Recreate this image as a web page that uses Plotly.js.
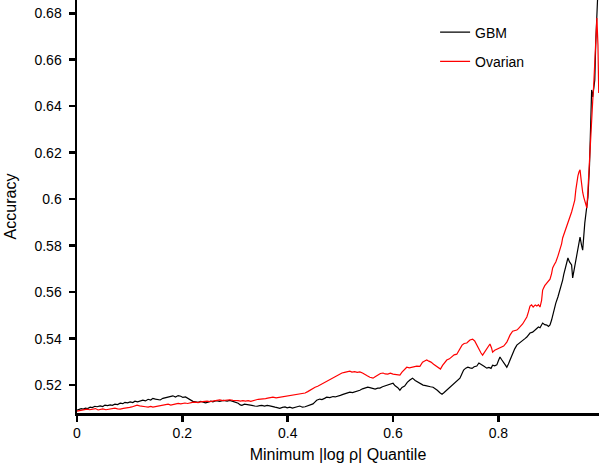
<!DOCTYPE html>
<html>
<head>
<meta charset="utf-8">
<script src="https://cdn.plot.ly/plotly-3.0.1.min.js"></script>
<style>html,body{margin:0;padding:0;background:#fff;}#chart{width:600px;height:465px;}</style>
</head>
<body>
<div id="chart"></div>
<script>
// GBM series (Minimum |log rho| quantile -> accuracy)
var gbmX = [0.000,0.004,0.008,0.012,0.016,0.020,0.025,0.029,0.034,0.038,0.044,0.049,0.053,0.058,0.063,0.067,0.072,0.077,0.082,0.087,0.091,0.096,0.101,0.106,0.110,0.115,0.120,0.125,0.130,0.135,0.140,0.144,0.149,0.154,0.158,0.163,0.168,0.173,0.177,0.182,0.187,0.192,0.197,0.201,0.206,0.211,0.216,0.220,0.225,0.230,0.235,0.239,0.244,0.249,0.254,0.258,0.264,0.271,0.278,0.285,0.290,0.296,0.301,0.306,0.310,0.313,0.318,0.323,0.328,0.332,0.337,0.342,0.347,0.351,0.356,0.361,0.366,0.372,0.376,0.380,0.385,0.390,0.395,0.399,0.404,0.409,0.414,0.418,0.423,0.428,0.433,0.438,0.442,0.448,0.452,0.455,0.461,0.465,0.470,0.474,0.480,0.486,0.490,0.495,0.500,0.505,0.510,0.514,0.518,0.523,0.528,0.532,0.537,0.542,0.547,0.552,0.556,0.561,0.566,0.571,0.575,0.580,0.585,0.590,0.595,0.600,0.604,0.609,0.613,0.617,0.622,0.627,0.632,0.637,0.642,0.647,0.652,0.657,0.662,0.666,0.671,0.676,0.680,0.684,0.689,0.693,0.697,0.700,0.704,0.708,0.712,0.717,0.722,0.727,0.731,0.734,0.738,0.742,0.746,0.750,0.754,0.759,0.763,0.768,0.772,0.778,0.782,0.786,0.789,0.793,0.797,0.800,0.803,0.806,0.810,0.816,0.819,0.822,0.827,0.831,0.835,0.838,0.841,0.844,0.848,0.851,0.854,0.857,0.860,0.865,0.869,0.873,0.876,0.879,0.884,0.888,0.892,0.895,0.898,0.901,0.903,0.906,0.909,0.913,0.917,0.920,0.922,0.924,0.926,0.929,0.932,0.935,0.939,0.941,0.943,0.945,0.949,0.953,0.955,0.958,0.960,0.964,0.968,0.970,0.973,0.975,0.977,0.979,0.981,0.983,0.985,0.987,0.989];
var gbmY = [0.5092,0.5095,0.5099,0.5097,0.5101,0.5099,0.5105,0.5103,0.5109,0.5107,0.5111,0.5108,0.5114,0.5112,0.5115,0.5113,0.5118,0.5116,0.5122,0.5120,0.5126,0.5124,0.5128,0.5125,0.5131,0.5128,0.5132,0.5135,0.5132,0.5139,0.5136,0.5143,0.5140,0.5139,0.5136,0.5143,0.5146,0.5148,0.5152,0.5154,0.5149,0.5155,0.5152,0.5147,0.5149,0.5143,0.5136,0.5130,0.5128,0.5126,0.5130,0.5127,0.5124,0.5127,0.5131,0.5128,0.5133,0.5130,0.5134,0.5131,0.5134,0.5130,0.5126,0.5122,0.5115,0.5113,0.5118,0.5117,0.5114,0.5113,0.5110,0.5109,0.5112,0.5113,0.5110,0.5113,0.5111,0.5109,0.5105,0.5103,0.5100,0.5104,0.5106,0.5102,0.5105,0.5101,0.5103,0.5107,0.5110,0.5105,0.5107,0.5112,0.5114,0.5119,0.5128,0.5135,0.5140,0.5138,0.5143,0.5148,0.5146,0.5151,0.5149,0.5154,0.5156,0.5160,0.5163,0.5168,0.5170,0.5168,0.5171,0.5175,0.5178,0.5184,0.5187,0.5191,0.5189,0.5185,0.5183,0.5187,0.5187,0.5193,0.5196,0.5200,0.5205,0.5208,0.5197,0.5189,0.5178,0.5190,0.5196,0.5212,0.5222,0.5230,0.5220,0.5213,0.5207,0.5200,0.5198,0.5195,0.5193,0.5191,0.5186,0.5178,0.5167,0.5161,0.5168,0.5174,0.5183,0.5190,0.5198,0.5209,0.5220,0.5230,0.5250,0.5265,0.5273,0.5277,0.5274,0.5272,0.5279,0.5282,0.5295,0.5289,0.5282,0.5273,0.5276,0.5272,0.5286,0.5283,0.5287,0.5305,0.5321,0.5310,0.5296,0.5277,0.5291,0.5308,0.5338,0.5356,0.5372,0.5377,0.5381,0.5388,0.5394,0.5401,0.5407,0.5416,0.5424,0.5428,0.5437,0.5445,0.5450,0.5447,0.5467,0.5460,0.5458,0.5452,0.5459,0.5480,0.5501,0.5530,0.5553,0.5579,0.5609,0.5632,0.5652,0.5675,0.5695,0.5722,0.5747,0.5730,0.5717,0.5661,0.5685,0.5704,0.5751,0.5800,0.5837,0.5800,0.5781,0.5897,0.5975,0.6009,0.6147,0.6341,0.6470,0.6440,0.6479,0.6513,0.6685,0.6814,0.6900];

// Ovarian series
var ovX = [0.000,0.005,0.010,0.014,0.019,0.024,0.030,0.035,0.040,0.045,0.049,0.055,0.063,0.068,0.072,0.077,0.082,0.088,0.095,0.100,0.104,0.110,0.114,0.119,0.125,0.130,0.135,0.140,0.144,0.149,0.154,0.159,0.163,0.168,0.173,0.178,0.182,0.187,0.192,0.197,0.205,0.210,0.214,0.219,0.224,0.230,0.234,0.240,0.247,0.252,0.258,0.265,0.271,0.277,0.285,0.290,0.296,0.301,0.306,0.310,0.315,0.320,0.325,0.330,0.334,0.339,0.344,0.349,0.353,0.358,0.362,0.367,0.372,0.378,0.385,0.392,0.399,0.405,0.410,0.416,0.423,0.428,0.433,0.438,0.442,0.447,0.452,0.457,0.461,0.466,0.471,0.476,0.480,0.486,0.490,0.494,0.498,0.503,0.508,0.513,0.518,0.522,0.527,0.532,0.537,0.542,0.547,0.551,0.556,0.562,0.566,0.571,0.576,0.581,0.585,0.590,0.595,0.600,0.606,0.613,0.617,0.621,0.626,0.631,0.636,0.641,0.645,0.651,0.656,0.660,0.664,0.668,0.672,0.677,0.682,0.686,0.690,0.694,0.698,0.702,0.707,0.712,0.716,0.721,0.726,0.731,0.735,0.740,0.746,0.751,0.755,0.757,0.761,0.764,0.767,0.770,0.773,0.776,0.780,0.784,0.787,0.789,0.793,0.797,0.802,0.806,0.810,0.813,0.816,0.819,0.822,0.827,0.831,0.835,0.838,0.841,0.846,0.850,0.854,0.857,0.860,0.863,0.866,0.870,0.873,0.876,0.879,0.882,0.884,0.888,0.892,0.895,0.898,0.901,0.903,0.906,0.909,0.913,0.917,0.920,0.922,0.926,0.928,0.932,0.936,0.939,0.942,0.945,0.947,0.949,0.951,0.953,0.955,0.957,0.958,0.960,0.962,0.964,0.966,0.968,0.970,0.973,0.975,0.977,0.979,0.981,0.983,0.985,0.987,0.989,0.9905];
var ovY = [0.5088,0.5091,0.5092,0.5095,0.5097,0.5094,0.5097,0.5099,0.5093,0.5096,0.5098,0.5094,0.5097,0.5099,0.5101,0.5098,0.5097,0.5100,0.5101,0.5104,0.5106,0.5112,0.5114,0.5111,0.5110,0.5107,0.5105,0.5108,0.5105,0.5107,0.5110,0.5112,0.5114,0.5117,0.5118,0.5114,0.5116,0.5119,0.5121,0.5119,0.5123,0.5121,0.5124,0.5126,0.5127,0.5125,0.5128,0.5130,0.5131,0.5129,0.5132,0.5133,0.5136,0.5133,0.5135,0.5137,0.5134,0.5135,0.5133,0.5131,0.5133,0.5131,0.5133,0.5130,0.5134,0.5136,0.5139,0.5140,0.5138,0.5142,0.5144,0.5146,0.5148,0.5145,0.5148,0.5151,0.5153,0.5154,0.5157,0.5159,0.5161,0.5164,0.5166,0.5172,0.5178,0.5184,0.5191,0.5195,0.5200,0.5207,0.5213,0.5220,0.5226,0.5230,0.5237,0.5243,0.5247,0.5252,0.5255,0.5258,0.5260,0.5256,0.5258,0.5255,0.5257,0.5252,0.5247,0.5240,0.5234,0.5230,0.5236,0.5243,0.5250,0.5252,0.5248,0.5247,0.5251,0.5247,0.5245,0.5243,0.5256,0.5265,0.5277,0.5274,0.5277,0.5279,0.5282,0.5281,0.5299,0.5304,0.5308,0.5303,0.5299,0.5290,0.5282,0.5275,0.5269,0.5285,0.5299,0.5308,0.5313,0.5325,0.5330,0.5333,0.5352,0.5372,0.5379,0.5381,0.5394,0.5398,0.5390,0.5381,0.5364,0.5348,0.5338,0.5329,0.5340,0.5351,0.5365,0.5377,0.5360,0.5342,0.5350,0.5355,0.5359,0.5363,0.5368,0.5376,0.5385,0.5400,0.5415,0.5432,0.5434,0.5437,0.5443,0.5450,0.5463,0.5478,0.5493,0.5515,0.5540,0.5545,0.5536,0.5545,0.5540,0.5546,0.5536,0.5565,0.5609,0.5628,0.5639,0.5650,0.5656,0.5680,0.5704,0.5718,0.5730,0.5755,0.5781,0.5808,0.5833,0.5858,0.5876,0.5902,0.5925,0.5945,0.5970,0.5996,0.6040,0.6083,0.6100,0.6117,0.6126,0.6085,0.6052,0.6030,0.6009,0.5990,0.5975,0.5962,0.6039,0.6182,0.6260,0.6341,0.6420,0.6492,0.6599,0.6700,0.6780,0.6664,0.6457];

var xTickVals = [0, 0.2, 0.4, 0.6, 0.8];
var xTickText = ["0", "0.2", "0.4", "0.6", "0.8"];
var yTickVals = [0.52, 0.54, 0.56, 0.58, 0.6, 0.62, 0.64, 0.66, 0.68];
var yTickText = ["0.52", "0.54", "0.56", "0.58", "0.6", "0.62", "0.64", "0.66", "0.68"];

var FONT = "Liberation Sans, Arial, Helvetica, sans-serif";

var traces = [
  {x: gbmX, y: gbmY, type: "scatter", mode: "lines", name: "GBM",
   line: {color: "#000000", width: 1.2}, legendgroup: "a"},
  {x: ovX, y: ovY, type: "scatter", mode: "lines", name: "Ovarian",
   line: {color: "#ff0000", width: 1.2}, legendgroup: "b"}
];

var layout = {
  width: 600, height: 465,
  margin: {l: 77, r: 1, t: 0, b: 52, pad: 0},
  paper_bgcolor: "#ffffff", plot_bgcolor: "#ffffff",
  font: {family: FONT, size: 14, color: "#000"},
  showlegend: true,
  legend: {x: 0.686, y: 0.96, xanchor: "left", yanchor: "top",
           bgcolor: "rgba(0,0,0,0)", font: {family: FONT, size: 14, color: "#000"},
           tracegroupgap: 8, traceorder: "grouped"},
  xaxis: {range: [0, 0.991], showgrid: false, zeroline: false,
          showline: true, linecolor: "#000", linewidth: 2.5,
          ticks: "outside", ticklen: 6, tickwidth: 2.5, tickcolor: "#000",
          tickvals: xTickVals, ticktext: xTickText,
          tickfont: {family: FONT, size: 14, color: "#000"},
          title: {text: "Minimum |log ρ| Quantile", font: {family: FONT, size: 16, color: "#000"}, standoff: 9}},
  yaxis: {range: [0.508, 0.6857], showgrid: false, zeroline: false,
          showline: true, linecolor: "#000", linewidth: 2.5,
          ticks: "outside", ticklen: 6, tickwidth: 2.5, tickcolor: "#000",
          tickvals: yTickVals, ticktext: yTickText, ticklabelstandoff: 4,
          tickfont: {family: FONT, size: 14, color: "#000"},
          title: {text: "Accuracy", font: {family: FONT, size: 16, color: "#000"}, standoff: 14}}
};

Plotly.newPlot("chart", traces, layout, {displayModeBar: false, staticPlot: true});
</script>
</body>
</html>
